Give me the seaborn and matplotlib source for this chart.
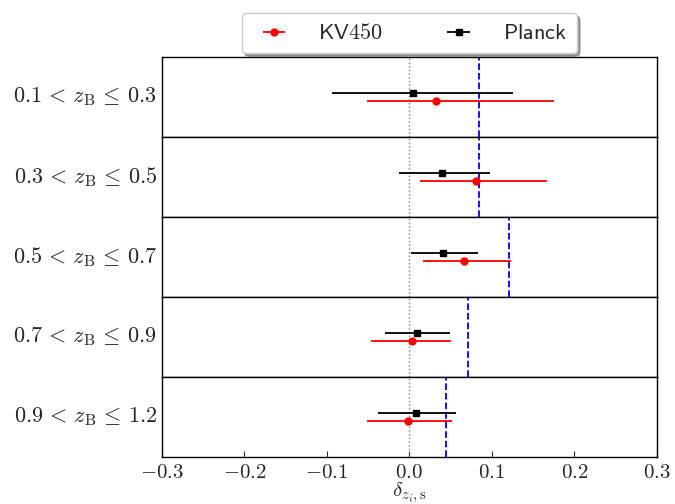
import matplotlib
matplotlib.use('Agg')
import matplotlib.pyplot as plt
import seaborn as sns
import numpy as np

bins = [r'$0.1 \,<\, z_{\rm B} \,\leq\, 0.3$',
        r'$0.3 \,<\, z_{\rm B} \,\leq\, 0.5$',
        r'$0.5 \,<\, z_{\rm B} \,\leq\, 0.7$',
        r'$0.7 \,<\, z_{\rm B} \,\leq\, 0.9$',
        r'$0.9 \,<\, z_{\rm B} \,\leq\, 1.2$']

kv450 = [0.032, 0.081, 0.066, 0.003, -0.002]
kv450_lo = [0.084, 0.068, 0.050, 0.050, 0.050]
kv450_hi = [0.143, 0.086, 0.057, 0.048, 0.054]

planck = [0.004, 0.040, 0.041, 0.009, 0.008]
planck_lo = [0.098, 0.053, 0.039, 0.038, 0.046]
planck_hi = [0.122, 0.058, 0.042, 0.040, 0.048]

ref_shift = [0.085, 0.085, 0.121, 0.071, 0.045]

sns.set_style('white')
plt.rcParams['mathtext.fontset'] = 'cm'
plt.rcParams['font.family'] = ['DejaVu Sans']

fig, axes = plt.subplots(5, 1, sharex=True, figsize=(6.75, 5.04), dpi=100)
fig.subplots_adjust(left=0.24, right=0.973, bottom=0.093, top=0.887, hspace=0)

for i, ax in enumerate(axes):
    ax.axvline(0, color='gray', ls=':', lw=1)
    ax.axvline(ref_shift[i], color='blue', ls='--', lw=1.3)
    h1 = ax.errorbar(kv450[i], -0.1, xerr=[[kv450_lo[i]], [kv450_hi[i]]],
                     fmt='o', color='red', ms=5, lw=1.3, capsize=0)
    h2 = ax.errorbar(planck[i], 0.1, xerr=[[planck_lo[i]], [planck_hi[i]]],
                     fmt='s', color='black', ms=5, lw=1.3, capsize=0)
    ax.set_ylim(-1, 1)
    ax.set_yticks([])
    ax.set_ylabel(bins[i], rotation=0, fontsize=16, ha='right', va='center')
    ax.yaxis.set_label_coords(-0.01, 0.5)
    for s in ax.spines.values():
        s.set_color('black')
        s.set_linewidth(1)
    ax.tick_params(axis='x', direction='in', length=4, bottom=(i == 4))

axes[-1].set_xlim(-0.3, 0.3)
axes[-1].set_xticks(np.arange(-0.3, 0.31, 0.1))
axes[-1].set_xticklabels([r'$%.1f$' % v if abs(v) > 1e-9 else r'$0.0$' for v in np.arange(-0.3, 0.31, 0.1)],
                         fontsize=15)
axes[-1].set_xlabel(r'$\delta_{z_i,{\rm s}}$', fontsize=15, labelpad=-1)

axes[0].legend([h1, h2], [r'$\mathsf{KV450}$', r'$\mathsf{Planck}$'], ncol=2,
               loc='lower center', bbox_to_anchor=(0.5, 1.045), fontsize=16,
               frameon=True, shadow=True, fancybox=True, columnspacing=2.4,
               handletextpad=1.0, borderpad=0.45,
               edgecolor='#cccccc', borderaxespad=0)

fig.savefig('out.png', dpi=100)
